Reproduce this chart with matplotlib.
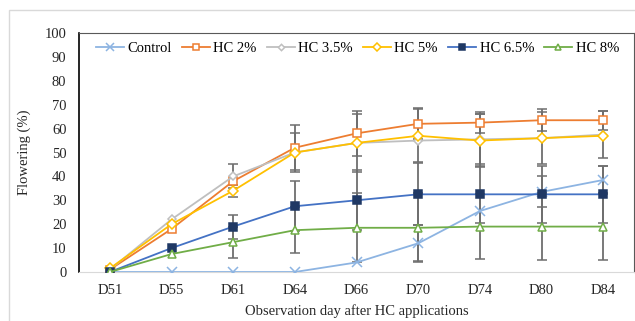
import numpy as np
import matplotlib.pyplot as plt
from matplotlib.patches import Rectangle

plt.rcParams['font.family'] = ['Liberation Serif', 'DejaVu Serif']

days = ['D51', 'D55', 'D61', 'D64', 'D66', 'D70', 'D74', 'D80', 'D84']
series_names = ['Control', 'HC 2%', 'HC 3.5%', 'HC 5%', 'HC 6.5%', 'HC 8%']

control = [0, 0, 0, 0, 4, 12, 25.5, 33.5, 38.5]
hc2 = [1, 18, 38, 52, 58, 62, 62.5, 63.5, 63.5]
hc35 = [1, 22, 40, 50, 54, 55, 55.5, 56, 57.5]
hc5 = [1.5, 20, 34, 50, 54, 57, 55, 56, 57]
hc65 = [0, 10, 19, 27.5, 30, 32.5, 32.5, 32.5, 32.5]
hc8 = [0, 7.5, 12.5, 17.5, 18.5, 18.5, 19, 19, 19]

# error bars (approximate)
control_err = [0, 0, 0, 0, 0, 7.5, 0, 6.5, 6]
hc2_err = [0, 0, 0, 9.5, 9.5, 6.5, 4.5, 4.5, 4]
hc35_err = [0, 0, 5, 8, 12, 0, 10.5, 11, 10]
hc5_err = [0, 0, 2.5, 0, 0, 11, 11, 0, 0]
hc65_err = [0, 0, 5, 10.5, 12.5, 13, 12, 12, 12]
hc8_err = [0, 0, 6.5, 9.5, 14.5, 14.5, 13.5, 14, 14]

values = [control, hc2, hc35, hc5, hc65, hc8]
errors = [control_err, hc2_err, hc35_err, hc5_err, hc65_err, hc8_err]
line_colors = ['#8DB4E2', '#ED7D31', '#BFBFBF', '#FFC000', '#4472C4', '#70AD47']
markers = ['x', 's', 'D', 'D', 's', '^']
msizes = [7, 6, 4, 5, 6, 5.5]
faces = ['none', 'white', 'white', 'white', '#1F3864', 'white']

fs = 10.5

fig = plt.figure(figsize=(6.35, 3.21), dpi=100)
fig.patches.append(Rectangle((9 / 635, -0.1), 1.1, 1 - 10 / 321 + 0.1,
                             transform=fig.transFigure, fill=False,
                             edgecolor='#D9D9D9', linewidth=1))
ax = fig.add_axes([79 / 635, 1 - 272 / 321, 555 / 635, 239 / 321])

x = np.arange(len(days))
for v, e in zip(values, errors):
    v = np.array(v)
    e = np.array(e)
    m = e > 0
    ax.errorbar(x[m], v[m], yerr=e[m], fmt='none', ecolor='#6E6E6E',
                elinewidth=1.3, capsize=3.5, capthick=1.1, zorder=2)

for name, v, c, mk, ms, fc in zip(series_names, values, line_colors, markers, msizes, faces):
    mec = c
    if name == 'HC 6.5%':
        mec = '#1F3864'
    ax.plot(x, v, color=c, linewidth=1.3, marker=mk, markersize=ms,
            markerfacecolor=fc, markeredgecolor=mec, markeredgewidth=1.1,
            label=name, zorder=3)

ax.set_xlim(-0.5, len(days) - 0.5)
ax.set_ylim(0, 100)
ax.set_yticks(range(0, 101, 10))
ax.set_xticks(x)
ax.set_xticklabels(days)
ax.tick_params(axis='both', length=0, labelsize=fs, colors='#262626')
ax.tick_params(axis='x', pad=9)
ax.tick_params(axis='y', pad=9)

ax.spines['left'].set_color('black')
ax.spines['left'].set_linewidth(1.2)
ax.spines['bottom'].set_color('#D9D9D9')
ax.spines['top'].set_color('#595959')
ax.spines['right'].set_color('#595959')

ax.set_ylabel('Flowering (%)', fontsize=fs, color='#262626', labelpad=10)
ax.set_xlabel('Observation day after HC applications', fontsize=fs,
              color='#262626', labelpad=5)

ax.legend(loc='upper left', bbox_to_anchor=(0.015, 1.0), ncol=6, frameon=False,
          fontsize=fs, handlelength=1.9, handletextpad=0.25, columnspacing=0.7,
          borderaxespad=0.3, borderpad=0.3, markerscale=0.8)

fig.savefig('out.png', dpi=100)
